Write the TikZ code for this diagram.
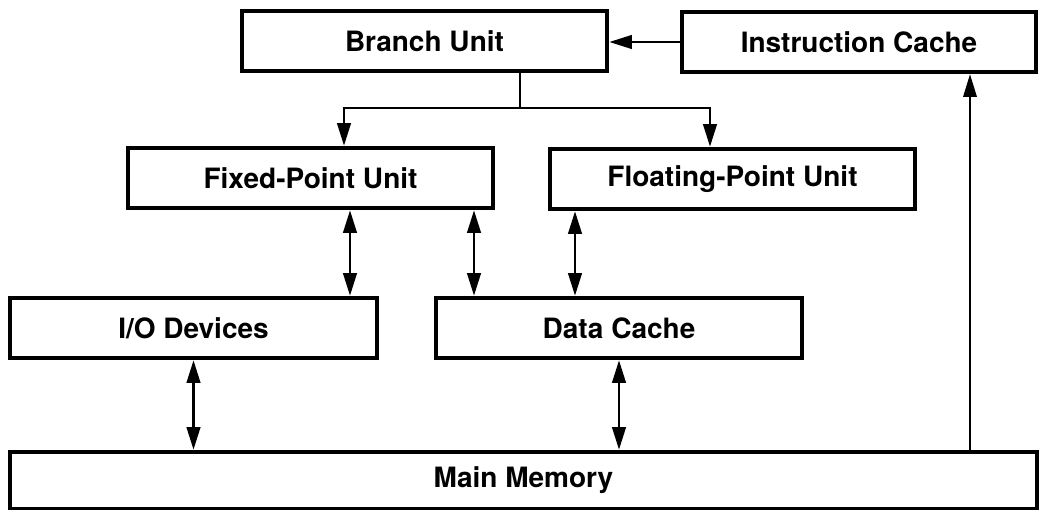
\documentclass[tikz,border=0pt]{standalone}
\usepackage{fontspec}
\setsansfont{TeX Gyre Heros}
\usetikzlibrary{arrows.meta}

\begin{document}
\begin{tikzpicture}[x=0.75pt,y=-0.75pt,
        unit/.style={draw,line width=3.2pt,inner sep=0pt,
          minimum width=273.75pt,minimum height=45pt,
          font=\sffamily\bfseries\fontsize{21}{25}\selectfont},
        feed/.style={line width=2.2pt,-{Triangle[length=17pt,width=10pt]}},
        bus/.style={line width=2.2pt,
          {Triangle[length=17pt,width=10pt]}-{Triangle[length=17pt,width=10pt]}}]
        \useasboundingbox (0,0) rectangle (1039,510);

        \node[unit] (branch) at (424.5,41) {Branch Unit};
        \node[unit,minimum width=265.5pt] (icache) at (859,42) {Instruction Cache};
        \node[unit] (fixed) at (310.5,178) {Fixed-Point Unit};
        \node[unit] (float) at (732.5,179) {Floating-Point Unit};
        \node[unit,minimum width=275.25pt] (io) at (193.5,328) {I/O Devices};
        \node[unit,minimum width=274.5pt] (dcache) at (619,328) {Data Cache};
        \node[unit,minimum width=770.25pt,minimum height=42.75pt] (main) at (523.5,480.5) {Main Memory};

        % branch fan-out
        \coordinate (split) at (520,108);
        \coordinate (fxin) at (344,0);
        \coordinate (flin) at (710,0);
        % data paths
        \coordinate (fxio) at (350,0);
        \coordinate (fxdc) at (474,0);
        \coordinate (fldc) at (575,0);
        \coordinate (up) at (970,0);

        \draw[feed] (icache.west) -- (icache.west -| branch.east);
        \draw[feed] (branch.south -| split) -- (split) -| (fixed.north -| fxin);
        \draw[feed] (branch.south -| split) -- (split) -| (float.north -| flin);

        \draw[bus] (fixed.south -| fxio) -- (io.north -| fxio);
        \draw[bus] (fixed.south -| fxdc) -- (dcache.north -| fxdc);
        \draw[bus] (float.south -| fldc) -- (dcache.north -| fldc);
        \draw[bus] (io.south) -- (io.south |- main.north);
        \draw[bus] (dcache.south) -- (dcache.south |- main.north);

        \draw[feed,line width=1.6pt] (main.north -| up) -- (icache.south -| up);
\end{tikzpicture}
\end{document}
